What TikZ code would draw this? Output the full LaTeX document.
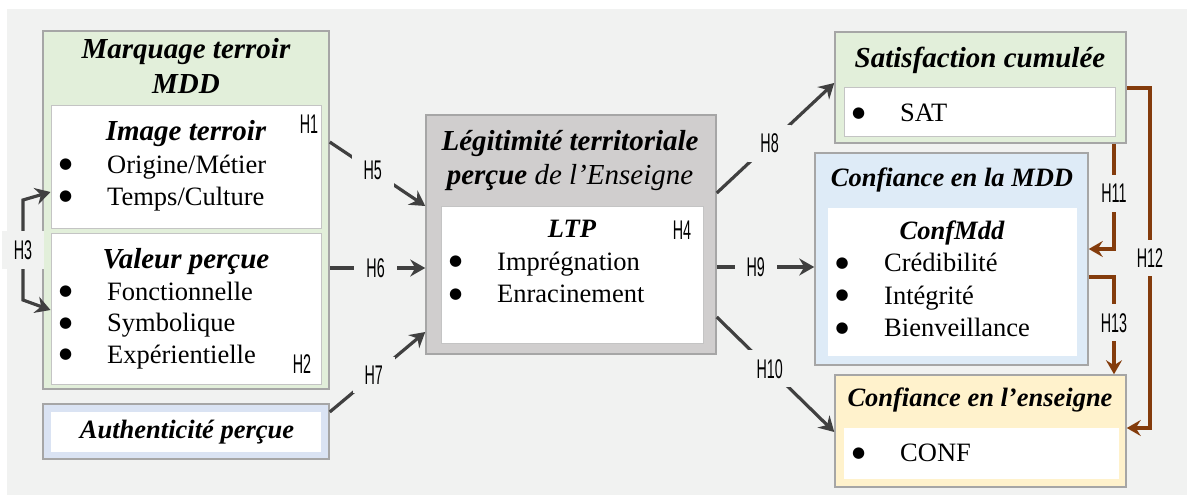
\documentclass[tikz,border=0pt]{standalone}
\usepackage{fontspec}
\setmainfont{Liberation Serif}
\newfontfamily\hfam{Liberation Sans}
\newfontfamily\dvs{DejaVu Sans}
\usetikzlibrary{arrows.meta,fit}
\definecolor{bgc}{HTML}{F1F2F1}
\definecolor{grn}{HTML}{E2EFDA}
\definecolor{gry}{HTML}{D0CECE}
\definecolor{blua}{HTML}{DAE3F3}
\definecolor{blub}{HTML}{DEEBF7}
\definecolor{yel}{HTML}{FFF2CC}
\definecolor{bord}{HTML}{A6A6A6}
\definecolor{ibord}{HTML}{C4C4C4}
\definecolor{arr}{HTML}{404040}
\definecolor{brn}{HTML}{843C0C}
\newcommand\HL[1]{\scalebox{0.53}[1]{#1}}
\newcommand\bul{\raisebox{4.5pt}{\dvs\fontsize{15}{15}\selectfont ●}}
\newcommand\blist[2]{\begin{tabular}[t]{@{}p{#1}@{}l@{}}#2\end{tabular}}
\begin{document}
\begin{tikzpicture}[x=1pt,y=-1pt,
  outerbox/.style={draw=bord, line width=1.5pt, inner sep=0pt},
  innerbox/.style={draw=ibord, line width=1pt, fill=white, inner sep=0pt},
  plainbox/.style={draw=none, fill=white, inner sep=0pt},
  ttl/.style={font=\fontsize{29}{34}\selectfont\bfseries\itshape, anchor=base, inner sep=0pt},
  ttls/.style={font=\fontsize{26.5}{32}\selectfont\bfseries\itshape, anchor=base, inner sep=0pt},
  body/.style={font=\fontsize{26.5}{#1}\selectfont, anchor=base west, inner sep=0pt},
  body/.default=32.5,
  hlab/.style={font=\hfam\fontsize{27}{27}\selectfont, anchor=base, inner sep=0pt},
  clab/.style={font=\hfam\fontsize{27}{27}\selectfont, fill=bgc, inner xsep=12pt, inner ysep=9pt, text=black},
  garrow/.style={draw=arr, line width=3.2pt, -{Stealth[length=15pt,width=17pt,inset=5pt]}},
  barrow/.style={draw=brn, line width=3.2pt, -{Stealth[length=14pt,width=16pt,inset=5pt]}}
]
\useasboundingbox (0,0) rectangle (1187,495);
\fill[bgc] (7,9) rectangle (1187,495);

% left boxes
\node[outerbox, fill=grn, fit={(43,31) (329,389)}] (mdd) {};
\node[innerbox, fit={(51,106) (321,228)}] (img) {};
\node[innerbox, fit={(51,233) (321,384)}] (val) {};
\node[outerbox, fill=blua, fit={(43,404) (329,459)}] (auth) {};
\node[plainbox, fit={(51,412) (321,452)}] (authin) {};

% centre box
\node[outerbox, fill=gry, fit={(426,115) (716,354)}] (ltp) {};
\node[innerbox, fit={(441,206) (703,343)}] (ltpin) {};

% right boxes
\node[outerbox, fill=grn, fit={(835,32) (1126,143)}] (sat) {};
\node[innerbox, fit={(844,88) (1115,136)}] (satin) {};
\node[outerbox, fill=blub, fit={(815,153) (1088,365)}] (cmdd) {};
\node[plainbox, fit={(828,208) (1077,356)}] (cmddin) {};
\node[outerbox, fill=yel, fit={(835,375) (1126,487)}] (ens) {};
\node[plainbox, fit={(844,428) (1119,479)}] (ensin) {};

% texts left
\node[ttl] (t1) at (186,59) {Marquage terroir};
\node[ttl] (t2) at (186,93) {MDD};
\node[ttl] (t3) at (186,140) {Image terroir};
\node[body=32] (l1) at (59,173.3) {\blist{48pt}{\bul&Origine/Métier\\\bul&Temps/Culture}};
\node[ttl] (t4) at (186,268.3) {Valeur perçue};
\node[body=31.7] (l2) at (59,300) {\blist{48pt}{\bul&Fonctionnelle\\\bul&Symbolique\\\bul&Expérientielle}};
\node[ttls] (t5) at (187,438.3) {Authenticité perçue};
\node[hlab] (h1) at (309,133) {\HL{H1}};
\node[hlab] (h2) at (302,373) {\HL{H2}};

% texts centre
\node[ttl] (t6) at (570,150.7) {Légitimité territoriale};
\node[ttl] (t7) at (570,184) {perçue \mdseries de l’Enseigne};
\node[ttls] (t8) at (572,237.3) {LTP};
\node[hlab] (h4) at (682,239) {\HL{H4}};
\node[body=32.7] (l3) at (449,270) {\blist{48pt}{\bul&Imprégnation\\\bul&Enracinement}};

% texts right
\node[ttl] (t9) at (980,67.7) {Satisfaction cumulée};
\node[body] (l4) at (852,121.7) {\blist{48pt}{\bul&SAT}};
\node[ttls] (t10) at (952,186) {Confiance en la MDD};
\node[ttls] (t11) at (952,239.3) {ConfMdd};
\node[body=32.5] (l5) at (835.5,271.7) {\blist{48.5pt}{\bul&Crédibilité\\\bul&Intégrité\\\bul&Bienveillance}};
\node[ttls] (t12) at (980,406.7) {Confiance en l’enseigne};
\node[body] (l6) at (852,461.7) {\blist{48pt}{\bul&CONF}};

% H3
\draw[garrow, {Stealth[length=15pt,width=17pt,inset=5pt]}-{Stealth[length=15pt,width=17pt,inset=5pt]}]
  (img.west |- 0,192) -- (23,200) -- node[clab, pos=0.5] (h3) {\HL{H3}} (23,300) -- (val.west |- 0,310);

% grey connectors
\draw[garrow] (mdd.east |- 0,142) -- node[clab, pos=0.45] (h5) {\HL{H5}} (ltp.west |- 0,206);
\draw[garrow] (mdd.east |- 0,268) -- node[clab, pos=0.48] (h6) {\HL{H6}} (ltp.west |- 0,268);
\draw[garrow] (auth.east |- 0,412) -- node[clab, pos=0.46] (h7) {\HL{H7}} (ltp.west |- 0,332);
\draw[garrow] (ltp.east |- 0,193) -- node[clab, pos=0.45] (h8) {\HL{H8}} (sat.west |- 0,83);
\draw[garrow] (ltp.east |- 0,267) -- node[clab, pos=0.4] (h9) {\HL{H9}} (cmdd.west |- 0,267);
\draw[garrow] (ltp.east |- 0,317) -- node[clab, pos=0.45] (h10) {\HL{H10}} (ens.west |- 0,432);

% brown connectors
\draw[barrow] (sat.south -| 1114,0) -- node[clab, pos=0.47] (h11) {\HL{H11}} (1114,249) -- (cmdd.east |- 0,249);
\draw[barrow] (sat.east |- 0,88) -- (1150,88) -- node[clab, pos=0.5] (h12) {\HL{H12}} (1150,428) -- (ens.east |- 0,428);
\draw[barrow] (cmdd.east |- 0,277) -- (1114,277) -- node[clab, pos=0.47] (h13) {\HL{H13}} (ens.north -| 1114,0);
\end{tikzpicture}
\end{document}
